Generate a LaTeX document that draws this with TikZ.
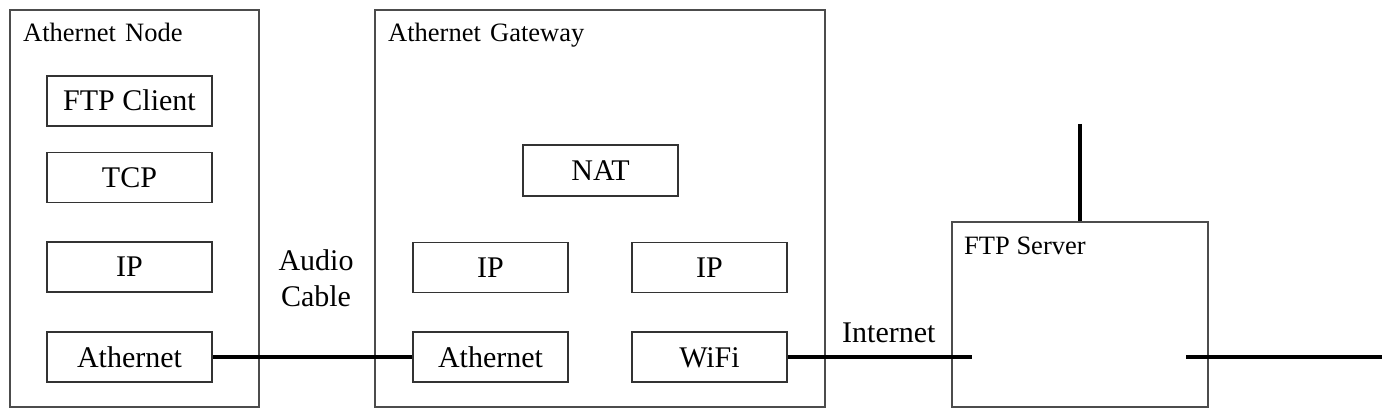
\documentclass[tikz,border=0pt]{standalone}
\usepackage{fontspec}
\setmainfont{Liberation Serif}
\begin{document}
\begin{tikzpicture}[x=1pt,y=-1pt,
  outer/.style={draw=black!70, line width=1.5pt, inner sep=0pt},
  layer/.style={draw=black!80, line width=1.5pt, inner sep=0pt, minimum height=50pt,
     font=\fontsize{30}{36}\selectfont, text height=20pt, text depth=0pt},
  title/.style={anchor=base west, inner sep=0pt, font=\fontsize{26.5}{32}\selectfont},
  lbl/.style={inner sep=0pt, font=\fontsize{30}{36}\selectfont},
  wire/.style={line width=4pt, draw=black}]
\useasboundingbox (0,0) rectangle (1396,419);
% outer boxes
\node[outer, minimum width=249pt, minimum height=397pt] (nodebox) at (134.5,208.5) {};
\node[outer, minimum width=450pt, minimum height=397pt] (gwbox) at (600,208.5) {};
\node[outer, minimum width=256pt, minimum height=185pt] (srvbox) at (1080,314.5) {};
% titles
\node[title] (nodetitle) at (23,42) {Athernet\hspace{0.35em}Node};
\node[title] (gwtitle) at (388,42) {Athernet\hspace{0.35em}Gateway};
\node[title] (srvtitle) at (964,255) {FTP Server};
% node layers
\node[layer, minimum width=165pt] (ftpc) at (129.5,101) {FTP Client};
\node[layer, minimum width=165pt] (tcp) at (129.5,177.5) {TCP};
\node[layer, minimum width=165pt] (ipn) at (129.5,267) {IP};
\node[layer, minimum width=165pt] (athn) at (129.5,357) {Athernet};
% gateway layers
\node[layer, minimum width=155pt, minimum height=51pt] (nat) at (600.5,170.5) {NAT};
\node[layer, minimum width=155pt] (ipl) at (490.5,267.5) {IP};
\node[layer, minimum width=155pt] (ipr) at (709.5,267.5) {IP};
\node[layer, minimum width=155pt] (athg) at (490.5,357) {Athernet};
\node[layer, minimum width=155pt] (wifi) at (709.5,357) {WiFi};
% labels
\node[lbl, align=center, anchor=base] (audio) at (316,307) {Audio\\Cable};
\node[lbl, anchor=base west] (inet) at (842,342) {Internet};
% wire end points
\coordinate (srvin) at (972,357);
\coordinate (srvtop) at (1080,124);
\coordinate (srvout) at (1186,357);
\coordinate (farend) at (1382,357);
% wires
\draw[wire] (athn.east) -- (athg.west);
\draw[wire] (wifi.east) -- (srvin);
\draw[wire] (srvtop) -- (srvbox.north);
\draw[wire] (srvout) -- (farend);
\end{tikzpicture}
\end{document}
